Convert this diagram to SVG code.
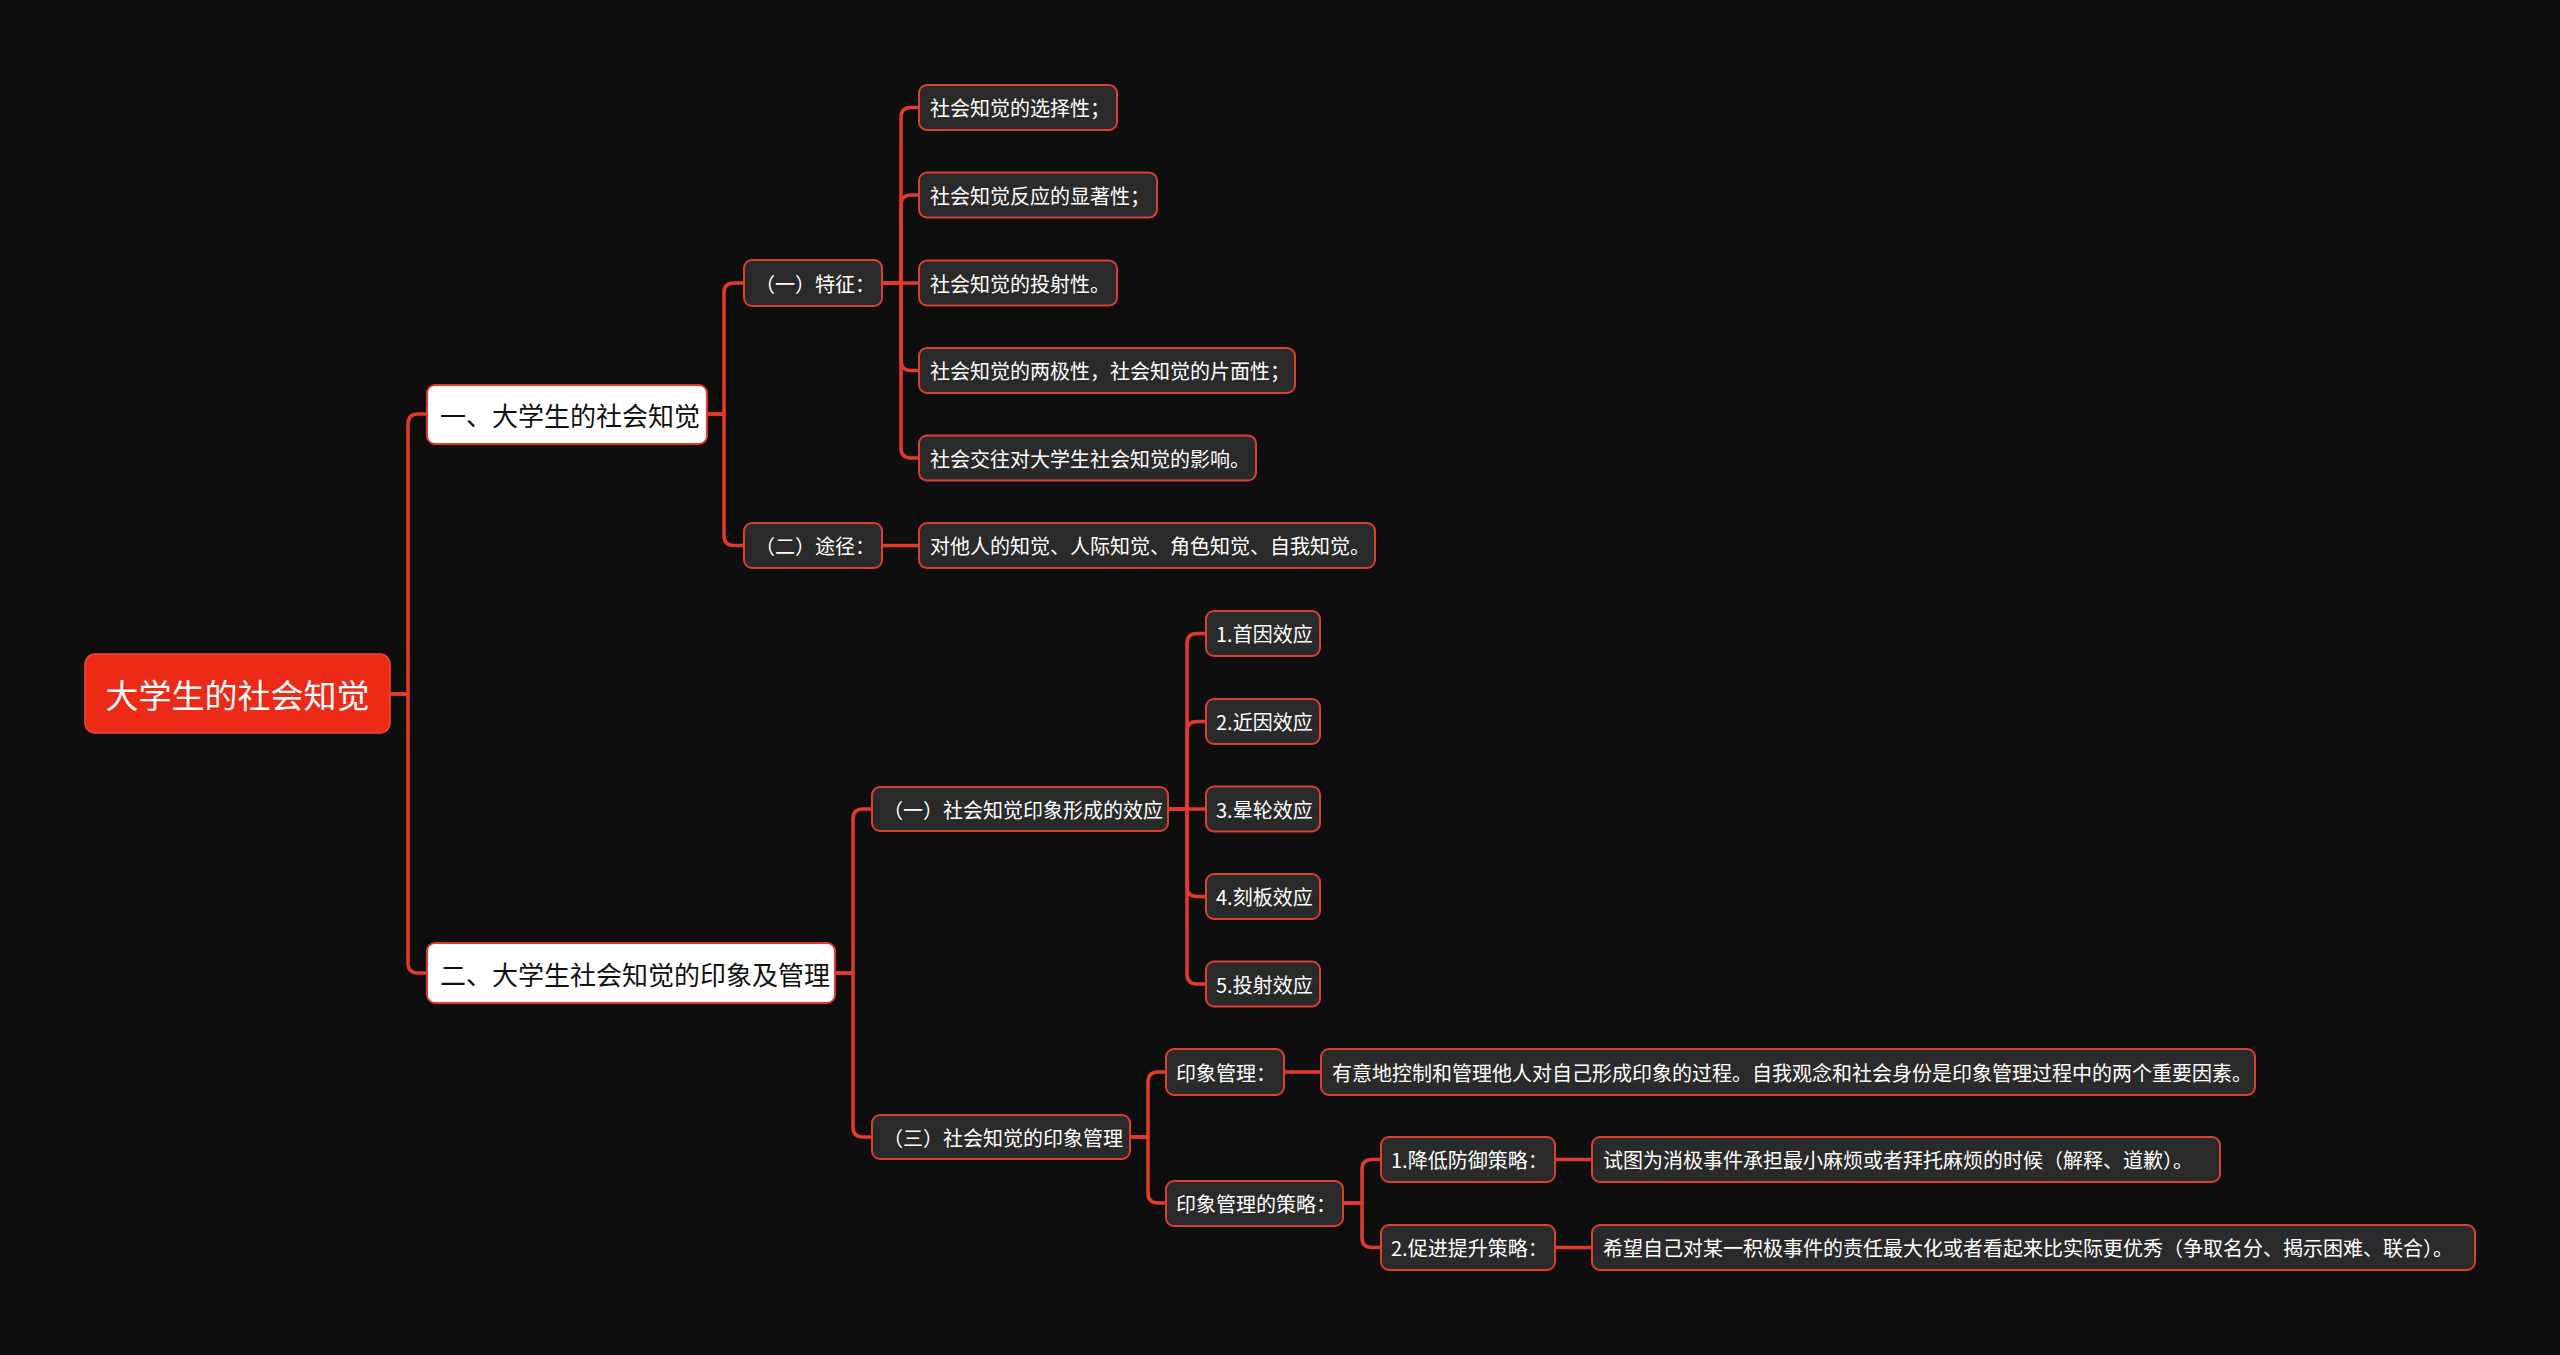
<svg xmlns="http://www.w3.org/2000/svg" width="2560" height="1355" viewBox="0 0 2560 1355">
<style>
.bg{fill:#0e0e0e}
.c{fill:none;stroke:#e23b2b;stroke-width:3.5;stroke-linecap:round;stroke-linejoin:round}
.n rect{fill:#2a2a2a;stroke:#dc3f30;stroke-width:2}
.n text{fill:#ffffff;font-family:"Noto Sans CJK SC","Noto Sans",sans-serif;font-size:20px;dominant-baseline:central}
.l1 rect{fill:#ffffff;stroke:#e03a2a;stroke-width:2}
.l1 text{fill:#111111;font-family:"Noto Sans CJK SC","Noto Sans",sans-serif;font-size:26px;dominant-baseline:central}
.root rect{fill:#ec2a18;stroke:#f04a33;stroke-width:1.5}
.root text{fill:#ffffff;font-family:"Noto Sans CJK SC","Noto Sans",sans-serif;font-size:33px;dominant-baseline:central;text-anchor:middle}
</style>
<rect class="bg" x="0" y="0" width="2560" height="1355"/>
<g id="connectors">
<path class="c" d="M390,694 H408 V424 Q408,414 418,414 H427"/>
<path class="c" d="M390,694 H408 V963 Q408,973 418,973 H427"/>
<path class="c" d="M707,414 H724 V293 Q724,283 734,283 H744"/>
<path class="c" d="M707,414 H724 V535.5 Q724,545.5 734,545.5 H744"/>
<path class="c" d="M882,283 H901 V117.5 Q901,107.5 911,107.5 H919"/>
<path class="c" d="M882,283 H901 V205 Q901,195 911,195 H919"/>
<path class="c" d="M882,283 H919"/>
<path class="c" d="M882,283 H901 V360.5 Q901,370.5 911,370.5 H919"/>
<path class="c" d="M882,283 H901 V448 Q901,458 911,458 H919"/>
<path class="c" d="M882,545.5 H919"/>
<path class="c" d="M835,973 H853 V819 Q853,809 863,809 H872"/>
<path class="c" d="M835,973 H853 V1127 Q853,1137 863,1137 H872"/>
<path class="c" d="M1168,809 H1187 V643.5 Q1187,633.5 1197,633.5 H1206"/>
<path class="c" d="M1168,809 H1187 V731.5 Q1187,721.5 1197,721.5 H1206"/>
<path class="c" d="M1168,809 H1206"/>
<path class="c" d="M1168,809 H1187 V886.5 Q1187,896.5 1197,896.5 H1206"/>
<path class="c" d="M1168,809 H1187 V974 Q1187,984 1197,984 H1206"/>
<path class="c" d="M1130,1137 H1148 V1082 Q1148,1072 1158,1072 H1166"/>
<path class="c" d="M1130,1137 H1148 V1193 Q1148,1203 1158,1203 H1166"/>
<path class="c" d="M1284,1072 H1321"/>
<path class="c" d="M1343,1203 H1362 V1169.5 Q1362,1159.5 1372,1159.5 H1381"/>
<path class="c" d="M1343,1203 H1362 V1237.5 Q1362,1247.5 1372,1247.5 H1381"/>
<path class="c" d="M1555,1159.5 H1592"/>
<path class="c" d="M1555,1247.5 H1592"/>
</g>
<g id="root" class="root"><rect x="85" y="654" width="305" height="79" rx="10"/><text x="237.5" y="694">大学生的社会知觉</text></g>
<g id="n1" class="l1"><rect x="427" y="385" width="280" height="59" rx="8"/><text x="440" y="414.5">一、大学生的社会知觉</text></g>
<g id="n2" class="l1"><rect x="427" y="943" width="408" height="60" rx="8"/><text x="440" y="973">二、大学生社会知觉的印象及管理</text></g>
<g id="n1-1" class="n"><rect x="744" y="260" width="138" height="46" rx="8"/><text x="755" y="283">（一）特征：</text></g>
<g id="n1-2" class="n"><rect x="744" y="523" width="138" height="45" rx="8"/><text x="755" y="545.5">（二）途径：</text></g>
<g id="leaf1" class="n"><rect x="919" y="85" width="198" height="45" rx="8"/><text x="930" y="107.5">社会知觉的选择性；</text></g>
<g id="leaf2" class="n"><rect x="919" y="172.5" width="238" height="45" rx="8"/><text x="930" y="195">社会知觉反应的显著性；</text></g>
<g id="leaf3" class="n"><rect x="919" y="260.5" width="198" height="45" rx="8"/><text x="930" y="283">社会知觉的投射性。</text></g>
<g id="leaf4" class="n"><rect x="919" y="348" width="376" height="45" rx="8"/><text x="930" y="370.5">社会知觉的两极性，社会知觉的片面性；</text></g>
<g id="leaf5" class="n"><rect x="919" y="435.5" width="337" height="45" rx="8"/><text x="930" y="458">社会交往对大学生社会知觉的影响。</text></g>
<g id="leaf6" class="n"><rect x="919" y="523" width="456" height="45" rx="8"/><text x="930" y="545.5">对他人的知觉、人际知觉、角色知觉、自我知觉。</text></g>
<g id="n2-1" class="n"><rect x="872" y="787" width="296" height="44" rx="8"/><text x="883" y="809">（一）社会知觉印象形成的效应</text></g>
<g id="e1" class="n"><rect x="1206" y="611" width="114" height="45" rx="8"/><text x="1216" y="633.5">1.首因效应</text></g>
<g id="e2" class="n"><rect x="1206" y="699" width="114" height="45" rx="8"/><text x="1216" y="721.5">2.近因效应</text></g>
<g id="e3" class="n"><rect x="1206" y="786.5" width="114" height="45" rx="8"/><text x="1216" y="809">3.晕轮效应</text></g>
<g id="e4" class="n"><rect x="1206" y="874" width="114" height="45" rx="8"/><text x="1216" y="896.5">4.刻板效应</text></g>
<g id="e5" class="n"><rect x="1206" y="961.5" width="114" height="45" rx="8"/><text x="1216" y="984">5.投射效应</text></g>
<g id="n2-2" class="n"><rect x="872" y="1115" width="258" height="44" rx="8"/><text x="883" y="1137">（三）社会知觉的印象管理</text></g>
<g id="m1" class="n"><rect x="1166" y="1049" width="118" height="46" rx="8"/><text x="1176" y="1072">印象管理：</text></g>
<g id="m1-d" class="n"><rect x="1321" y="1049" width="934" height="46" rx="8"/><text x="1332" y="1072">有意地控制和管理他人对自己形成印象的过程。自我观念和社会身份是印象管理过程中的两个重要因素。</text></g>
<g id="m2" class="n"><rect x="1166" y="1181" width="177" height="45" rx="8"/><text x="1176" y="1203">印象管理的策略：</text></g>
<g id="s1" class="n"><rect x="1381" y="1137" width="174" height="45" rx="8"/><text x="1391" y="1159.5">1.降低防御策略：</text></g>
<g id="s1-d" class="n"><rect x="1592" y="1137" width="628" height="45" rx="8"/><text x="1603" y="1159.5">试图为消极事件承担最小麻烦或者拜托麻烦的时候（解释、道歉）。</text></g>
<g id="s2" class="n"><rect x="1381" y="1225" width="174" height="45" rx="8"/><text x="1391" y="1247.5">2.促进提升策略：</text></g>
<g id="s2-d" class="n"><rect x="1592" y="1225" width="883" height="45" rx="8"/><text x="1603" y="1247.5">希望自己对某一积极事件的责任最大化或者看起来比实际更优秀（争取名分、揭示困难、联合）。</text></g>
</svg>
